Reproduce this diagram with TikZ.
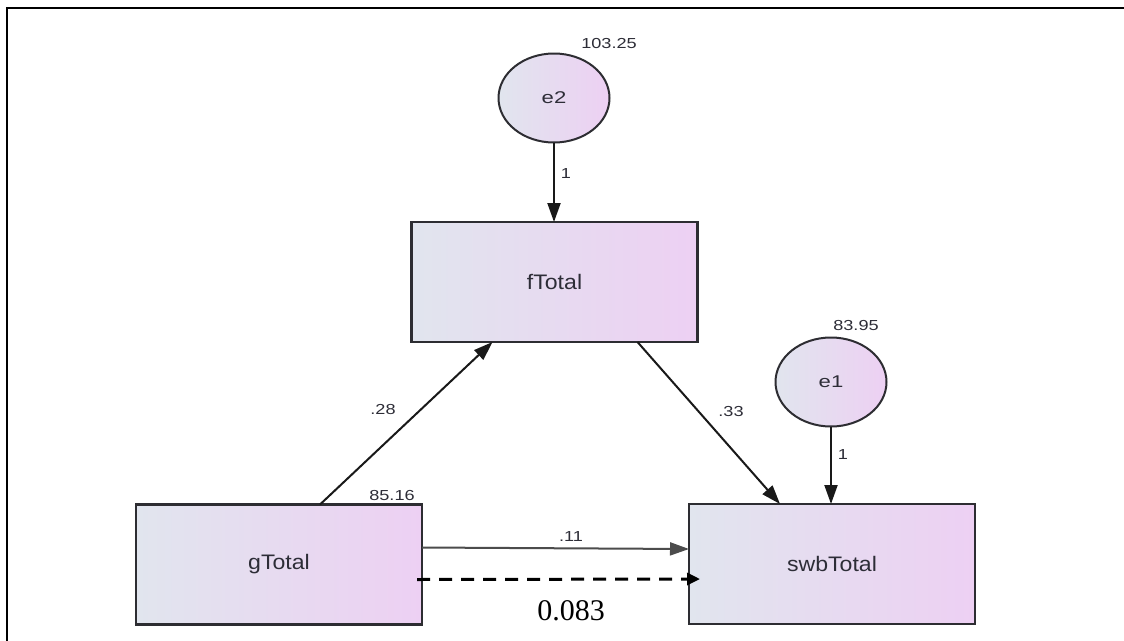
\documentclass[tikz,border=0pt]{standalone}
\usepackage{fontspec}
\setmainfont{Liberation Serif}
\newfontfamily\arialf{Liberation Sans}
\usetikzlibrary{arrows.meta,shapes.geometric,calc}
\definecolor{boxL}{RGB}{225,229,238}
\definecolor{boxR}{RGB}{237,208,243}
\definecolor{edgeC}{RGB}{45,45,50}
\definecolor{txtC}{RGB}{45,45,55}
\newcommand{\wid}[1]{\scalebox{1.25}[1]{#1}}
\tikzset{
  obsbox/.style={rectangle, draw=edgeC, line width=2.4pt, left color=boxL, right color=boxR,
    minimum width=286pt, minimum height=120pt, inner sep=0pt, outer sep=0pt,
    font=\arialf\fontsize{21}{24}\selectfont, text=txtC},
  errell/.style={ellipse, draw=edgeC, line width=2pt, left color=boxL, right color=boxR,
    minimum width=111pt, minimum height=89pt, inner sep=0pt, outer sep=0pt,
    font=\arialf\fontsize{17}{19}\selectfont, text=txtC},
  lbl/.style={font=\arialf\fontsize{14.5}{16}\selectfont, text=txtC, inner sep=0pt},
  path/.style={draw=black!90, line width=2pt, -{Triangle[length=19pt,width=13pt]}},
}
\begin{document}
\begin{tikzpicture}[x=1pt,y=-1pt]
\useasboundingbox (0,0) rectangle (1124,640);
\fill[white] (0,0) rectangle (1124,640);
% frame
\draw[line width=2pt, black] (7,660) -- (7,8) -- (1140,8);
% nodes
\node[errell] (e2) at (554,98) {\scalebox{1.3}[1]{e2}};
\node[obsbox] (f) at (554.5,282) {\scalebox{1.1}[1]{fTotal}};
\node[errell] (e1) at (831,382) {\scalebox{1.3}[1]{e1}};
\node[obsbox] (s) at (832,564) {\scalebox{1.1}[1]{swbTotal}};
\node[obsbox] (g) at (279,564.5) {\scalebox{1.1}[1]{gTotal}};
% variance labels
\node[lbl] (v2) at (609,44) {\wid{103.25}};
\node[lbl] (v1) at (856,326) {\wid{83.95}};
\node[lbl] (vg) at (392,496) {\wid{85.16}};
% paths
\draw[path] (e2.south) -- (e2.south |- f.north);
\draw[path] (e1.south) -- (e1.south |- s.north);
\draw[path] ([xshift=184pt]g.north west) -- ([xshift=81pt]f.south west);
\draw[path] ([xshift=226pt]f.south west) -- ([xshift=91pt]s.north west);
\draw[path, draw=black!70] ([yshift=-43pt]g.north east) -- ([yshift=-45pt]s.north west);
\draw[line width=3pt, black, dash pattern=on 13pt off 9pt, -{Triangle[length=13pt,width=12pt]}]
  ([xshift=-5pt,yshift=-75pt]g.north east) -- ([xshift=11pt,yshift=-75pt]s.north west);
% path labels
\node[lbl] (l1a) at (566,174) {\wid{1}};
\node[lbl] (l1b) at (843,455) {\wid{1}};
\node[lbl] (l28) at (383,410) {\wid{.28}};
\node[lbl] (l33) at (731,412) {\wid{.33}};
\node[lbl] (l11) at (571,537) {\wid{.11}};
\node[font=\fontsize{30}{32}\selectfont, inner sep=0pt] (l083) at (571,611) {0.083};
\end{tikzpicture}
\end{document}
